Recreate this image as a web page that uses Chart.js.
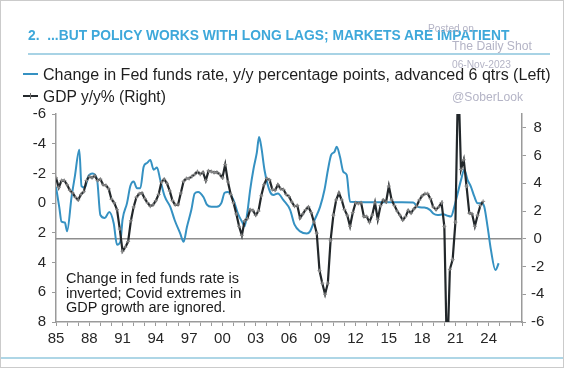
<!DOCTYPE html>
<html><head><meta charset="utf-8">
<script src="https://cdn.jsdelivr.net/npm/chart.js@4/dist/chart.umd.min.js"></script>
<style>
html,body{margin:0;padding:0;background:#fff;}
#wrap{position:relative;width:564px;height:368px;overflow:hidden;font-family:"Liberation Sans",Arial,sans-serif;background:#fff;}
#frame{position:absolute;left:0;top:0;width:564px;height:368px;box-sizing:border-box;border:1px solid #cbcbcb;pointer-events:none;z-index:5}
canvas{position:absolute;left:0;top:0;}
.t{position:absolute;white-space:nowrap;line-height:1;transform:translateY(-50%);}
.wm{color:#b4b4c6;z-index:4}
</style></head><body>
<div id="wrap">
<canvas id="c" width="564" height="368"></canvas>
<div class="t" id="title" data-w="482" style="left:28px;top:36px;color:#3ea8da;font-weight:bold;font-size:13.5px">2.&nbsp; ...BUT POLICY WORKS WITH LONG LAGS; MARKETS ARE IMPATIENT</div>
<div style="position:absolute;left:28px;top:53px;width:522px;height:2px;background:#a8d3e5"></div>
<div style="position:absolute;left:23px;top:73px;width:15px;height:2px;background:#3591c2"></div>
<div class="t" id="leg1" data-w="508" style="left:43px;top:74px;color:#1e1e1e;font-size:15px">Change in Fed funds rate, y/y percentage points, advanced 6 qtrs (Left)</div>
<div style="position:absolute;left:23px;top:95px;width:15px;height:2px;background:#24292c"></div>
<div style="position:absolute;left:30px;top:93px;width:1px;height:6px;background:#6f6f6f"></div>
<div class="t" id="leg2" data-w="123" style="left:43px;top:97px;color:#1e1e1e;font-size:15px">GDP y/y% (Right)</div>
<div class="t wm" id="wm1" data-w="46" style="left:428px;top:29px;font-size:11px">Posted on</div>
<div class="t wm" id="wm2" data-w="80" style="left:452px;top:46px;font-size:13px">The Daily Shot</div>
<div class="t wm" id="wm3" data-w="59" style="left:452px;top:65px;font-size:11px">06-Nov-2023</div>
<div class="t wm" id="wm4" data-w="71" style="left:452px;top:97px;font-size:13px">@SoberLook</div>
<div class="t" id="ann1" data-w="173" style="left:66px;top:278px;color:#1a1a1a;font-size:14.5px">Change in fed funds rate is</div>
<div class="t ann" style="left:66px;top:292.5px;color:#1a1a1a;font-size:14.5px">inverted; Covid extremes in</div>
<div class="t ann" style="left:66px;top:307px;color:#1a1a1a;font-size:14.5px">GDP growth are ignored.</div>
<div style="position:absolute;left:0;top:357px;width:564px;height:2px;background:#aed6e6"></div>
<div id="frame"></div>
</div>
<script>
// ---- data ----
const blueYears = [1985.0,1985.3,1985.5,1985.8,1986.0,1986.4,1986.7,1987.1,1987.3,1987.6,1987.9,1988.3,1988.7,1989.0,1989.4,1989.8,1990.2,1990.5,1990.8,1991.0,1991.4,1991.7,1992.0,1992.3,1992.6,1992.9,1993.2,1993.5,1993.8,1994.1,1994.4,1994.8,1995.3,1995.7,1996.2,1996.5,1996.8,1997.2,1997.5,1997.8,1998.3,1998.6,1999.0,1999.5,1999.9,2000.2,2000.5,2001.0,2001.4,2001.8,2002.0,2002.25,2002.5,2002.8,2003.1,2003.3,2003.5,2003.8,2004.3,2004.6,2005.0,2005.5,2006.1,2006.5,2007.0,2007.6,2007.9,2008.3,2008.8,2009.2,2009.5,2009.8,2010.1,2010.3,2010.6,2010.9,2011.2,2011.5,2017.2,2017.6,2018.2,2018.7,2019.0,2019.4,2019.9,2020.3,2020.6,2020.9,2021.2,2021.5,2021.8,2022.1,2022.4,2022.7,2023.0,2023.4,2023.6,2023.9,2024.2,2024.6,2024.9];
const blueValues = [-1.1,0.3,1.25,1.3,1.9,-0.4,-1.8,-3.6,-1.15,-1.05,-1.8,-2.0,-1.6,0.8,1.0,0.6,1.35,2.8,2.6,1.1,0.0,-1.15,-1.45,-1.0,-1.0,-2.45,-2.7,-2.9,-2.25,-2.4,-1.55,-0.45,0.25,1.15,2.05,2.6,1.6,0.45,-0.65,-0.75,-0.4,0.1,0.25,0.25,0.0,-0.7,-0.75,-0.2,0.7,1.3,1.55,0.6,-0.9,-2.3,-3.4,-4.45,-3.8,-2.2,-0.75,-0.55,-0.65,-0.2,0.45,1.45,1.9,2.05,1.9,1.15,0.25,-0.9,-2.2,-3.25,-3.45,-3.8,-3.1,-2.1,-1.9,-0.1,-0.05,0.25,0.3,0.45,0.7,0.8,0.75,0.85,0.9,0.25,-0.65,-1.55,-2.25,-1.55,-1.1,-0.45,0.0,0.0,0.25,1.6,3.15,4.5,4.05];

const gdpStartYear = 1985; // first quarter: 1985Q1, quarterly
const gdpValues = [
 4.4,3.7,4.2,4.2,   3.9,3.5,3.3,3.0,   2.8,3.2,3.4,4.2,   4.5,4.4,4.55,4.2,
 4.3,3.9,3.85,3.6,  2.85,2.6,2.1,0.7,  -0.9,-0.6,-0.2,1.3, 2.3,3.0,3.25,3.3,
 2.9,2.6,2.35,2.45, 2.75,3.2,4.1,4.3,  4.0,3.45,2.75,2.45, 2.45,3.3,4.15,4.35,
 4.35,4.5,4.65,4.85, 4.65,4.8,4.2,4.9, 4.85,4.78,4.8,4.65, 4.4,5.35,4.1,3.2,
 2.6,1.8,0.9,0.25,  1.3,1.45,2.1,2.05, 1.7,2.0,3.1,3.9,   4.35,4.25,3.55,3.5,
 3.9,3.6,3.55,3.2,  3.05,2.65,2.35,2.4, 1.5,1.8,2.1,2.3,  1.9,1.2,0.4,-2.3,
 -3.2,-4.0,-3.2,-0.1, 1.7,2.8,3.3,2.8, 2.1,1.7,0.9,1.9,   2.6,2.55,2.6,1.6,
 1.6,1.2,1.7,2.6,   1.4,2.4,2.8,2.65,  3.8,2.8,2.4,2.0,   1.7,1.35,1.6,2.05,
 1.85,2.15,2.35,2.8, 3.1,3.25,3.25,2.9, 2.3,2.1,2.3,2.6,  0.9,-9.0,-2.2,-1.5,
 1.2,12.0,5.0,5.7,  3.8,1.85,1.8,0.9,  1.7,2.4,2.7
];

const xMin = 1985, xMax = 2027;
const xLabelYears = [1985,1988,1991,1994,1997,2000,2003,2006,2009,2012,2015,2018,2021,2024];
const xLabels = ['85','88','91','94','97','00','03','06','09','12','15','18','21','24'];
const leftTicks = [-6,-4,-2,0,2,4,6,8];
const rightTicks = [-6,-4,-2,0,2,4,6,8];

// ---- fit text widths ----
function fitEl(el, w){
  const r = el.getBoundingClientRect().width;
  const fs = parseFloat(getComputedStyle(el).fontSize);
  el.style.fontSize = (fs * w / r) + 'px';
}
document.querySelectorAll('[data-w]').forEach(el => fitEl(el, +el.dataset.w));
const annFs = getComputedStyle(document.getElementById('ann1')).fontSize;
document.querySelectorAll('.ann').forEach(el => el.style.fontSize = annFs);

// ---- chart ----
const bluePoints = blueYears.map((x,i)=>({x, y: blueValues[i]}));
const gdpPoints = gdpValues.map((v,i)=>({x: gdpStartYear + i/4, y: v}));
const tickFont = {family:'"Liberation Sans", Arial, sans-serif', size:15};
const axisGray = '#9a9a9a';

new Chart(document.getElementById('c').getContext('2d'), {
  type:'line',
  data:{datasets:[
    {data:gdpPoints, yAxisID:'y1', borderColor:'#22272a', borderWidth:2.2, pointStyle:'cross', pointRadius:2, pointBorderColor:'#8a8a8a', pointBorderWidth:1, tension:0, order:0},
    {data:bluePoints, yAxisID:'y', borderColor:'#3591c2', borderWidth:2, pointRadius:0, cubicInterpolationMode:'monotone', order:1},
    {data:[{x:xMin,y:0},{x:xMax,y:0}], yAxisID:'y1', borderColor:'#8e8e8e', borderWidth:1.5, pointRadius:0, order:2}
  ]},
  options:{
    responsive:false, animation:false, devicePixelRatio:1,
    layout:{padding:{top:114,left:0,right:0,bottom:0}},
    plugins:{legend:{display:false}, tooltip:{enabled:false}},
    scales:{
      x:{type:'linear', min:xMin, max:xMax,
        afterBuildTicks(s){ const t=[]; for(let y=xMin;y<=xMax;y++) t.push({value:y}); s.ticks=t; },
        afterFit(s){ s.height = 46; },
        ticks:{autoSkip:false, maxRotation:0, font:tickFont, color:'#262626', padding:4,
          callback(v){ const k = xLabelYears.indexOf(v); return k>=0 ? xLabels[k] : ''; }},
        grid:{drawOnChartArea:false, drawTicks:true, tickLength:4, color:axisGray, lineWidth:1},
        border:{display:true, color:axisGray, width:1.5}
      },
      y:{position:'left', reverse:true, min:-6, max:8,
        afterBuildTicks(s){ s.ticks = leftTicks.map(v=>({value:v})); },
        afterFit(s){ s.width = 56; },
        ticks:{font:tickFont, color:'#262626', padding:6},
        grid:{drawOnChartArea:false, drawTicks:true, tickLength:4, color:axisGray},
        border:{display:true, color:axisGray, width:1.5}
      },
      y1:{position:'right', min:-6, max:9,
        afterBuildTicks(s){ s.ticks = rightTicks.map(v=>({value:v})); },
        afterFit(s){ s.width = 42; },
        ticks:{font:tickFont, color:'#262626', padding:5, crossAlign:'center'},
        grid:{drawOnChartArea:false, drawTicks:true, tickLength:4, color:axisGray},
        border:{display:true, color:axisGray, width:1.5}
      }
    }
  }
});
</script>
</body></html>
